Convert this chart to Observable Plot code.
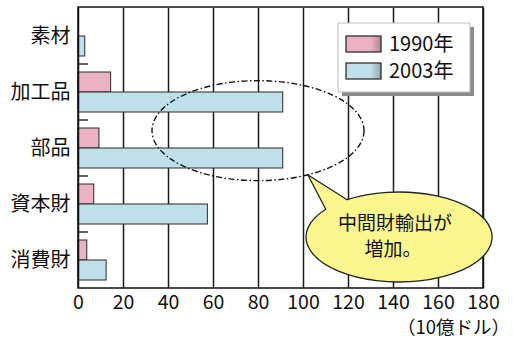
<!DOCTYPE html>
<html>
<head>
<meta charset="utf-8">
<script src="https://cdn.jsdelivr.net/npm/d3@7"></script>
<script src="https://cdn.jsdelivr.net/npm/@observablehq/plot@0.6"></script>
<style>
  html, body { margin: 0; padding: 0; background: #fff; }
  svg { display: block; }
</style>
</head>
<body>
<div id="chart"></div>
<script>
// Export values by goods category (billions of US dollars)
const categories = ["素材", "加工品", "部品", "資本財", "消費財"];
const years = ["1990年", "2003年"];
const values1990 = [0, 14.5, 9.3, 7, 3.9];
const values2003 = [3, 91, 91, 57.5, 12.5];
const xTicks = [0, 20, 40, 60, 80, 100, 120, 140, 160, 180];
const unitLabel = "（10億ドル）";
const calloutLines = ["中間財輸出が", "増加。"];

const colors = ["#ebb3c1", "#bfe0ea"];
const FONT = "'Noto Sans CJK JP', 'Noto Sans', sans-serif";

const rows = [];
categories.forEach((c, i) => {
  rows.push({category: c, year: years[0], value: values1990[i]});
  rows.push({category: c, year: years[1], value: values2003[i]});
});

const W = 513, H = 340;
const M = {top: 7, right: 30, bottom: 52, left: 78};

const plot = Plot.plot({
  width: W,
  height: H,
  marginTop: M.top,
  marginRight: M.right,
  marginBottom: M.bottom,
  marginLeft: M.left,
  style: {fontFamily: FONT, fontSize: "19px", color: "#111", background: "#fff", overflow: "visible"},
  x: {domain: [0, 180], label: null},
  y: {domain: years, paddingInner: 0, paddingOuter: 0.4, axis: null},
  fy: {domain: categories, padding: 0, label: null},
  color: {domain: years, range: colors},
  marks: [
    Plot.gridX(xTicks.filter(t => t > 0 && t < 180), {stroke: "#1a1a1a", strokeOpacity: 1, strokeWidth: 1.5}),
    Plot.barX(rows.filter(d => d.value > 0), {
      fy: "category", y: "year", x: "value",
      fill: "year", stroke: "#2a2a2a", strokeWidth: 1
    }),
    Plot.ruleX([0, 180], {stroke: "#111", strokeWidth: 1.5}),
    Plot.axisX(xTicks, {tickSize: 0, tickPadding: 7, fontSize: 19.5, label: null, tickFormat: d => d}),
    Plot.axisFy({anchor: "left", tickSize: 0, tickPadding: 8, fontSize: 20, label: null})
  ]
});

document.getElementById("chart").appendChild(plot);

// Annotations layered on top, positioned through the plot's scales
const svg = d3.select(plot);
const x = plot.scale("x");
const fy = plot.scale("fy");
const X = v => x.apply(v);
const frameTop = M.top, frameBottom = H - M.bottom;
const frameLeft = X(0), frameRight = X(180);
const band = fy.bandwidth;

// frame top & bottom edges
svg.append("rect")
  .attr("x", frameLeft).attr("y", frameTop)
  .attr("width", frameRight - frameLeft).attr("height", frameBottom - frameTop)
  .attr("fill", "none").attr("stroke", "#111").attr("stroke-width", 1.5);

// short ticks separating categories
categories.slice(1).forEach(c => {
  const yy = fy.apply(c);
  svg.append("line")
    .attr("x1", frameLeft).attr("x2", frameLeft + 10)
    .attr("y1", yy).attr("y2", yy)
    .attr("stroke", "#111").attr("stroke-width", 1.3);
});

// dash-dot ellipse around the intermediate goods bars
const eCx = X(80);
const eCy = (fy.apply("加工品") + fy.apply("部品")) / 2 + band * 0.69;
const eRx = 106, eRy = 50;
svg.append("ellipse")
  .attr("cx", eCx).attr("cy", eCy).attr("rx", eRx).attr("ry", eRy)
  .attr("fill", "none").attr("stroke", "#111").attr("stroke-width", 1.4)
  .attr("stroke-dasharray", "6,2.5,1.5,2.5");

// speech bubble
const bCx = X(142.7);
const bCy = fy.apply("消費財") + 5;
const bRx = 93, bRy = 45;
const rad = a => a * Math.PI / 180;
const tipA = rad(62);
const tip = [eCx + eRx * Math.cos(tipA), eCy + eRy * Math.sin(tipA)];
const p1 = [bCx + bRx * Math.cos(rad(218)), bCy + bRy * Math.sin(rad(218))];
const p2 = [bCx + bRx * Math.cos(rad(236)), bCy + bRy * Math.sin(rad(236))];
svg.append("path")
  .attr("d", `M${p1[0]},${p1[1]}L${tip[0]},${tip[1]}L${p2[0]},${p2[1]}A${bRx},${bRy} 0 1 1 ${p1[0]},${p1[1]}Z`)
  .attr("fill", "#fcf68f").attr("stroke", "#222").attr("stroke-width", 1.3)
  .attr("stroke-linejoin", "round");
svg.append("text")
  .attr("x", bCx - 4).attr("y", bCy - 14)
  .attr("text-anchor", "middle").attr("dy", "0.36em")
  .attr("font-family", FONT).attr("font-size", 19).attr("fill", "#111")
  .text(calloutLines[0]);
svg.append("text")
  .attr("x", bCx - 6).attr("y", bCy + 12)
  .attr("text-anchor", "middle").attr("dy", "0.36em")
  .attr("font-family", FONT).attr("font-size", 19).attr("fill", "#111")
  .text(calloutLines[1]);

// unit label under the axis
svg.append("text")
  .attr("x", W - 3).attr("y", H - 13)
  .attr("text-anchor", "end").attr("dy", "0.36em")
  .attr("font-family", FONT).attr("font-size", 18.5).attr("fill", "#111")
  .text(unitLabel);

// legend box with drop shadow
const defs = svg.append("defs");
colors.forEach((c, i) => {
  const g = defs.append("linearGradient").attr("id", "sw" + i);
  g.append("stop").attr("offset", "0.7").attr("stop-color", c);
  g.append("stop").attr("offset", "1").attr("stop-color", d3.color(c).darker(0.8));
});
const lgX = frameRight - 145, lgY = frameTop + 16, lgW = 132, lgH = 69;
svg.append("rect")
  .attr("x", lgX + 4).attr("y", lgY + 4).attr("width", lgW).attr("height", lgH)
  .attr("fill", "#8a8a8a");
svg.append("rect")
  .attr("x", lgX).attr("y", lgY).attr("width", lgW).attr("height", lgH)
  .attr("fill", "#fff").attr("stroke", "#bbb").attr("stroke-width", 1);
years.forEach((yr, i) => {
  const yy = lgY + 13 + i * 27;
  svg.append("rect")
    .attr("x", lgX + 8).attr("y", yy).attr("width", 35).attr("height", 16)
    .attr("fill", `url(#sw${i})`).attr("stroke", "#222").attr("stroke-width", 1.2);
  svg.append("text")
    .attr("x", lgX + 51).attr("y", yy + 8).attr("dy", "0.36em")
    .attr("text-anchor", "start")
    .attr("font-family", FONT).attr("font-size", 20).attr("fill", "#111")
    .text(yr);
});
</script>
</body>
</html>
